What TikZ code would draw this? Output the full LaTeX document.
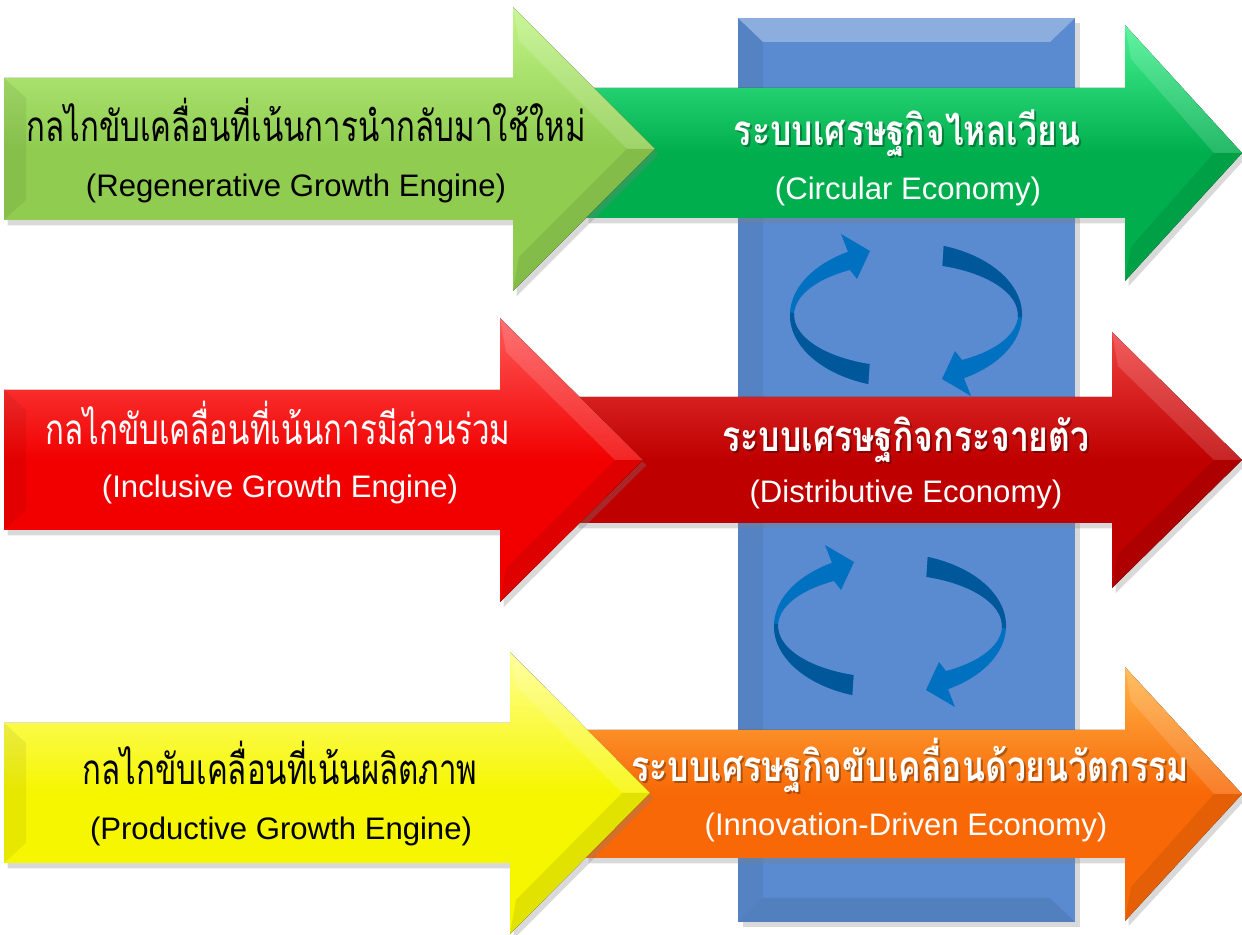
\documentclass[tikz,border=0pt]{standalone}
\usepackage{fontspec}
\usepackage{tikz}
\usetikzlibrary{shadows}
\setmainfont{Liberation Sans}
\newfontfamily\thaifont[Script=Thai, FakeStretch=0.74]{Loma}
\newfontfamily\thaibold[Script=Thai, FakeStretch=0.80]{Loma}
\newfontfamily\engfont{Liberation Sans}

\definecolor{azul}{HTML}{5A8BD0}
\definecolor{giroclaro}{HTML}{0070C0}
\definecolor{giroosc}{HTML}{00589A}
\definecolor{verdeAa}{HTML}{C2F588}
\definecolor{verdeAb}{HTML}{8FCC50}
\definecolor{verdeBa}{HTML}{45F292}
\definecolor{verdeBb}{HTML}{00AE4E}
\definecolor{rojoAa}{HTML}{FF5A5A}
\definecolor{rojoAb}{HTML}{F20000}
\definecolor{rojoBa}{HTML}{F04040}
\definecolor{rojoBb}{HTML}{BE0000}
\definecolor{amarilloa}{HTML}{FFFF90}
\definecolor{amarillob}{HTML}{F6F600}
\definecolor{naranjaa}{HTML}{FFB448}
\definecolor{naranjab}{HTML}{F86806}

\tikzset{
  sombra/.style={drop shadow={opacity=0.3,shadow xshift=2pt,shadow yshift=-3pt}},
  motor/.style={font=\thaifont\fontsize{24}{28}\selectfont, anchor=base},
  motoreng/.style={font=\engfont\fontsize{17.7}{20}\selectfont, anchor=base},
  eco/.style={font=\thaibold\bfseries\fontsize{24}{28}\selectfont, anchor=base, text=white},
  ecosombra/.style={eco, text=black, opacity=0.3},
  ecoeng/.style={font=\engfont\fontsize{17.7}{20}\selectfont, anchor=base, text=white},
}

% flecha: color arriba, color abajo, x izq, x base punta, x punta, y centro, medio cuerpo, media punta
\newcommand{\flecha}[8]{%
  \fill[sombra, top color=#1, bottom color=#2, middle color=#2]
    (#3,#6-#7) -- (#4,#6-#7) -- (#4,#6-#8) -- (#5,#6) -- (#4,#6+#8)
    -- (#4,#6+#7) -- (#3,#6+#7) -- cycle;
  \fill[white, opacity=0.15] (#4,#6-#8) -- (#5,#6) -- (#5-28,#6) -- (#4+6,#6-#8+34) -- cycle;
  \fill[black, opacity=0.08] (#4,#6+#8) -- (#5,#6) -- (#5-28,#6) -- (#4+6,#6+#8-34) -- cycle;
  \fill[black, opacity=0.06] (#3,#6-#7) -- (#3+22,#6-#7+20) -- (#3+22,#6+#7-20) -- (#3,#6+#7) -- cycle;
}

% giro: centro x, centro y
\newcommand{\giro}[2]{%
  \begin{scope}[shift={(#1,#2)}, yscale=-1]
    \foreach \r in {0,180}{
      \begin{scope}[rotate=\r]
        \fill[giroclaro] (251:116 and 73) arc[start angle=251, end angle=120, x radius=116, y radius=73]
          -- (-65,81) -- (-36,64) -- (-49,36) -- (120:112 and 52)
          arc[start angle=120, end angle=251, x radius=112, y radius=52] -- cycle;
        \fill[giroosc] (251:116 and 73) arc[start angle=251, end angle=178, x radius=116, y radius=73]
          -- (178:112 and 52) arc[start angle=178, end angle=251, x radius=112, y radius=52] -- cycle;
      \end{scope}
    }
  \end{scope}
}

\begin{document}
\begin{tikzpicture}[x=0.02cm, y=-0.02cm]
  \useasboundingbox (0,0) rectangle (1242,935);

  %Columna
  \fill[azul, drop shadow={opacity=0.3,shadow xshift=3pt,shadow yshift=-3pt}] (738,18) rectangle (1075,922);
  \fill[white, opacity=0.30] (738,18) -- (1075,18) -- (1050,42) -- (763,42) -- cycle;
  \fill[black, opacity=0.06] (738,18) -- (763,42) -- (763,898) -- (738,922) -- cycle;
  \fill[black, opacity=0.08] (738,922) -- (763,898) -- (1050,898) -- (1075,922) -- cycle;

  %Giros
  \giro{906}{315}
  \giro{890}{626}

  %Flechas derechas
  \flecha{verdeBa}{verdeBb}{585}{1125}{1242}{153}{65}{128}
  \flecha{rojoBa}{rojoBb}{575}{1112}{1242}{460}{63}{128}
  \flecha{naranjaa}{naranjab}{585}{1125}{1242}{794}{64}{127}

  %Flechas izquierdas
  \flecha{verdeAa}{verdeAb}{4}{513}{655}{149}{71}{142}
  \flecha{rojoAa}{rojoAb}{4}{500}{643}{460}{70}{142}
  \flecha{amarilloa}{amarillob}{4}{510}{650}{793}{70}{141}

  %Textos
  \node[motor] (motor1) at (306,142) {กลไกขับเคลื่อนที่เน้นการนำกลับมาใช้ใหม่};
  \node[motoreng] (motor1b) at (296,197) {(Regenerative Growth Engine)};
  \node[motor, text=white] (motor2) at (278,445) {กลไกขับเคลื่อนที่เน้นการมีส่วนร่วม};
  \node[motoreng, text=white] (motor2b) at (280,498) {(Inclusive Growth Engine)};
  \node[motor] (motor3) at (280,785) {กลไกขับเคลื่อนที่เน้นผลิตภาพ};
  \node[motoreng] (motor3b) at (281,840) {(Productive Growth Engine)};

  \node[ecosombra] (eco1s) at (909,148) {ระบบเศรษฐกิจไหลเวียน};
  \node[eco] (eco1) at (907,146) {ระบบเศรษฐกิจไหลเวียน};
  \node[ecoeng] (eco1b) at (908,200) {(Circular Economy)};
  \node[ecosombra] (eco2s) at (908,454) {ระบบเศรษฐกิจกระจายตัว};
  \node[eco] (eco2) at (906,452) {ระบบเศรษฐกิจกระจายตัว};
  \node[ecoeng] (eco2b) at (906,503) {(Distributive Economy)};
  \node[ecosombra] (eco3s) at (912,784) {ระบบเศรษฐกิจขับเคลื่อนด้วยนวัตกรรม};
  \node[eco] (eco3) at (910,782) {ระบบเศรษฐกิจขับเคลื่อนด้วยนวัตกรรม};
  \node[ecoeng] (eco3b) at (906,836) {(Innovation-Driven Economy)};
\end{tikzpicture}
\end{document}
